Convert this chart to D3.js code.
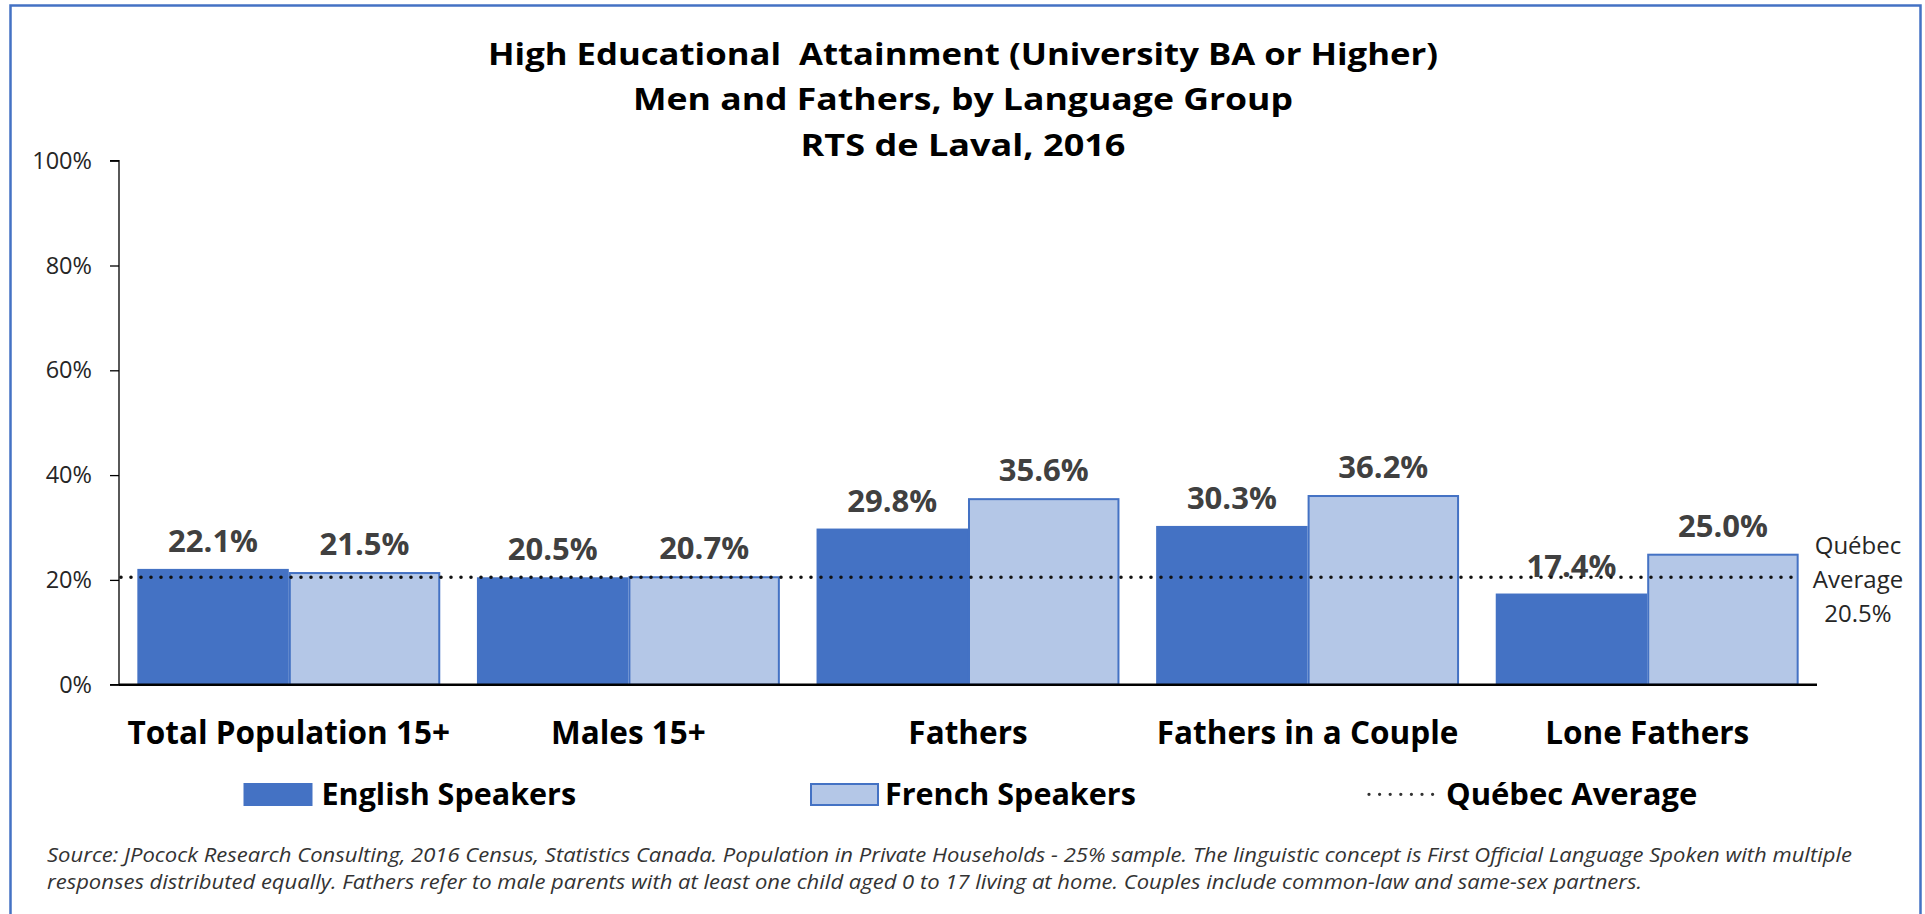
<!DOCTYPE html>
<html>
<head>
<meta charset="utf-8">
<script src="https://cdn.jsdelivr.net/npm/d3@7"></script>
<style>
  html, body { margin: 0; padding: 0; background: #fff; }
  svg { display: block; }
  text { font-family: "Open Sans", Lato, sans-serif; }
</style>
</head>
<body>
<svg id="chart" width="1925" height="914"></svg>
<script>
// ---- data ----
const categories = ["Total Population 15+", "Males 15+", "Fathers", "Fathers in a Couple", "Lone Fathers"];
const seriesNames = ["English Speakers", "French Speakers"];
const englishValues = [22.1, 20.5, 29.8, 30.3, 17.4];
const frenchValues = [21.5, 20.7, 35.6, 36.2, 25.0];
const quebecAverage = 20.5;
const quebecLabelLines = ["Québec", "Average", "20.5%"];
const averageLegend = "Québec Average";
const yTicks = [0, 20, 40, 60, 80, 100];
const titleLines = [
  "High Educational  Attainment (University BA or Higher)",
  "Men and Fathers, by Language Group",
  "RTS de Laval, 2016"
];
const sourceLines = [
  "Source: JPocock Research Consulting, 2016 Census, Statistics Canada. Population in Private Households - 25% sample. The linguistic concept is First Official Language Spoken with multiple",
  "responses distributed equally. Fathers refer to male parents with at least one child aged 0 to 17 living at home. Couples include common-law and same-sex partners."
];

// ---- layout ----
const W = 1925, H = 914;
const plot = { left: 119, right: 1817, top: 160.7, bottom: 684.7 };
const colors = { english: "#4472C4", french: "#B4C7E7", frenchStroke: "#4472C4" };
const seriesValues = [englishValues, frenchValues];
const seriesFill = [colors.english, colors.french];

// fit a text element to a measured width
function fit(sel, w) {
  sel.attr("textLength", w).attr("lengthAdjust", "spacingAndGlyphs");
}

const svg = d3.select("#chart");

// frame (blue border, open at bottom)
svg.append("path")
  .attr("d", `M10.5,${H + 5} L10.5,5.5 L1920.5,5.5 L1920.5,${H + 5}`)
  .attr("fill", "none")
  .attr("stroke", "#4472C4")
  .attr("stroke-width", 2.5);

const x0 = d3.scaleBand()
  .domain(categories)
  .range([plot.left, plot.right])
  .paddingInner(0.108)
  .paddingOuter(0.054);

const x1 = d3.scaleBand()
  .domain(seriesNames)
  .range([0, x0.bandwidth()])
  .padding(0);

const y = d3.scaleLinear()
  .domain([0, 100])
  .range([plot.bottom, plot.top]);

// title
const titleWidths = [950, 660, 325];
const titleBase = [65, 110, 156];
svg.append("g").selectAll("text")
  .data(titleLines)
  .join("text")
  .attr("x", 963)
  .attr("y", (d, i) => titleBase[i])
  .attr("text-anchor", "middle")
  .attr("font-weight", 700)
  .attr("font-size", 31)
  .attr("fill", "#000")
  .style("white-space", "pre")
  .text(d => d)
  .each(function (d, i) { fit(d3.select(this), titleWidths[i]); });

// y axis
const yAxis = d3.axisLeft(y)
  .tickValues(yTicks)
  .tickFormat(d => d + "%")
  .tickSize(9)
  .tickPadding(18);

const gy = svg.append("g")
  .attr("transform", `translate(${plot.left},0)`)
  .call(yAxis);
gy.select(".domain").attr("stroke", "#000").attr("stroke-width", 1.3)
  .attr("d", `M-9,${plot.top}H0V${plot.bottom}H-9`);
gy.selectAll(".tick line").attr("stroke", "#000").attr("stroke-width", 1.3);
gy.selectAll(".tick text")
  .attr("font-family", "'Open Sans', sans-serif")
  .attr("font-size", 23.5)
  .attr("fill", "#262626");

// bars
const groups = svg.append("g").selectAll("g")
  .data(categories)
  .join("g")
  .attr("transform", d => `translate(${x0(d)},0)`);

groups.selectAll("rect")
  .data((d, i) => seriesNames.map((s, k) => ({ s, k, v: seriesValues[k][i] })))
  .join("rect")
  .attr("x", d => x1(d.s) + (d.k === 1 ? 1 : 0))
  .attr("y", d => y(d.v) + (d.k === 1 ? 1 : 0))
  .attr("width", d => x1.bandwidth() - (d.k === 1 ? 2 : 0))
  .attr("height", d => y(0) - y(d.v) - (d.k === 1 ? 1 : 0))
  .attr("fill", d => seriesFill[d.k])
  .attr("stroke", d => d.k === 1 ? colors.frenchStroke : "none")
  .attr("stroke-width", 2);

// x axis line
svg.append("line")
  .attr("x1", plot.left).attr("x2", plot.right)
  .attr("y1", y(0)).attr("y2", y(0))
  .attr("stroke", "#000")
  .attr("stroke-width", 2.5);

// Québec average dotted line
svg.append("line")
  .attr("x1", plot.left + 2)
  .attr("x2", x0(categories[categories.length - 1]) + x0.bandwidth() + 2)
  .attr("y1", y(quebecAverage)).attr("y2", y(quebecAverage))
  .attr("stroke", "#111")
  .attr("stroke-width", 3.6)
  .attr("stroke-linecap", "round")
  .attr("stroke-dasharray", "0 10");

// value labels (with a faint white label box, as in the original)
const valG = groups.selectAll("g.val")
  .data((d, i) => seriesNames.map((s, k) => ({ s, k, v: seriesValues[k][i] })))
  .join("g")
  .attr("class", "val");
const valBox = valG.append("rect")
  .attr("fill", "#fff")
  .attr("fill-opacity", 0.75);
const valText = valG.append("text")
  .attr("x", d => x1(d.s) + x1.bandwidth() / 2)
  .attr("y", d => y(d.v) - 17)
  .attr("text-anchor", "middle")
  .attr("font-weight", 700)
  .attr("font-size", 31)
  .attr("fill", "#404040")
  .text(d => d.v.toFixed(1) + "%");
valText.each(function () {
  const b = this.getBBox();
  d3.select(this.previousSibling)
    .attr("x", b.x - 2).attr("y", b.y + 4)
    .attr("width", b.width + 4).attr("height", b.height - 2);
});

// category labels
svg.append("g").selectAll("text")
  .data(categories)
  .join("text")
  .attr("x", d => x0(d) + x0.bandwidth() / 2)
  .attr("y", 744.3)
  .attr("text-anchor", "middle")
  .attr("font-weight", 700)
  .attr("font-size", 31.5)
  .attr("fill", "#000")
  .text(d => d);

// Québec average annotation at right
svg.append("g").selectAll("text")
  .data(quebecLabelLines)
  .join("text")
  .attr("x", 1858)
  .attr("y", (d, i) => y(quebecAverage) - 23.5 + i * 34)
  .attr("text-anchor", "middle")
  .attr("font-size", 24)
  .attr("fill", "#262626")
  .text(d => d);

// legend
const lg = svg.append("g");
const legendItems = [
  { name: seriesNames[0], type: "rect", sx: 243.5, tx: 321.5, fill: colors.english, stroke: "none" },
  { name: seriesNames[1], type: "rect", sx: 810, tx: 885, fill: colors.french, stroke: colors.frenchStroke },
  { name: averageLegend, type: "line", sx: 1369, tx: 1446 }
];
legendItems.forEach(it => {
  if (it.type === "rect") {
    const sw = it.stroke === "none" ? 0 : 1;
    lg.append("rect")
      .attr("x", it.sx + sw).attr("y", 783 + sw)
      .attr("width", 69 - 2 * sw).attr("height", 23 - 2 * sw)
      .attr("fill", it.fill)
      .attr("stroke", it.stroke)
      .attr("stroke-width", 2);
  } else {
    lg.append("line")
      .attr("x1", it.sx).attr("x2", it.sx + 64)
      .attr("y1", 794.3).attr("y2", 794.3)
      .attr("stroke", "#333")
      .attr("stroke-width", 3.3)
      .attr("stroke-linecap", "round")
      .attr("stroke-dasharray", "0 10.6");
  }
  lg.append("text")
    .attr("x", it.tx).attr("y", 805)
    .attr("font-weight", 700)
    .attr("font-size", it.type === "line" ? 31 : 30.5)
    .attr("fill", "#000")
    .text(it.name);
});

// source note
const srcTargets = [1805, 1595];
svg.append("g").selectAll("text")
  .data(sourceLines)
  .join("text")
  .attr("x", 47)
  .attr("y", (d, i) => 861.5 + i * 27.8)
  .attr("font-style", "italic")
  .attr("font-size", 20.5)
  .attr("fill", "#333")
  .text(d => d)
  .each(function (d, i) { fit(d3.select(this), srcTargets[i]); });
</script>
</body>
</html>
